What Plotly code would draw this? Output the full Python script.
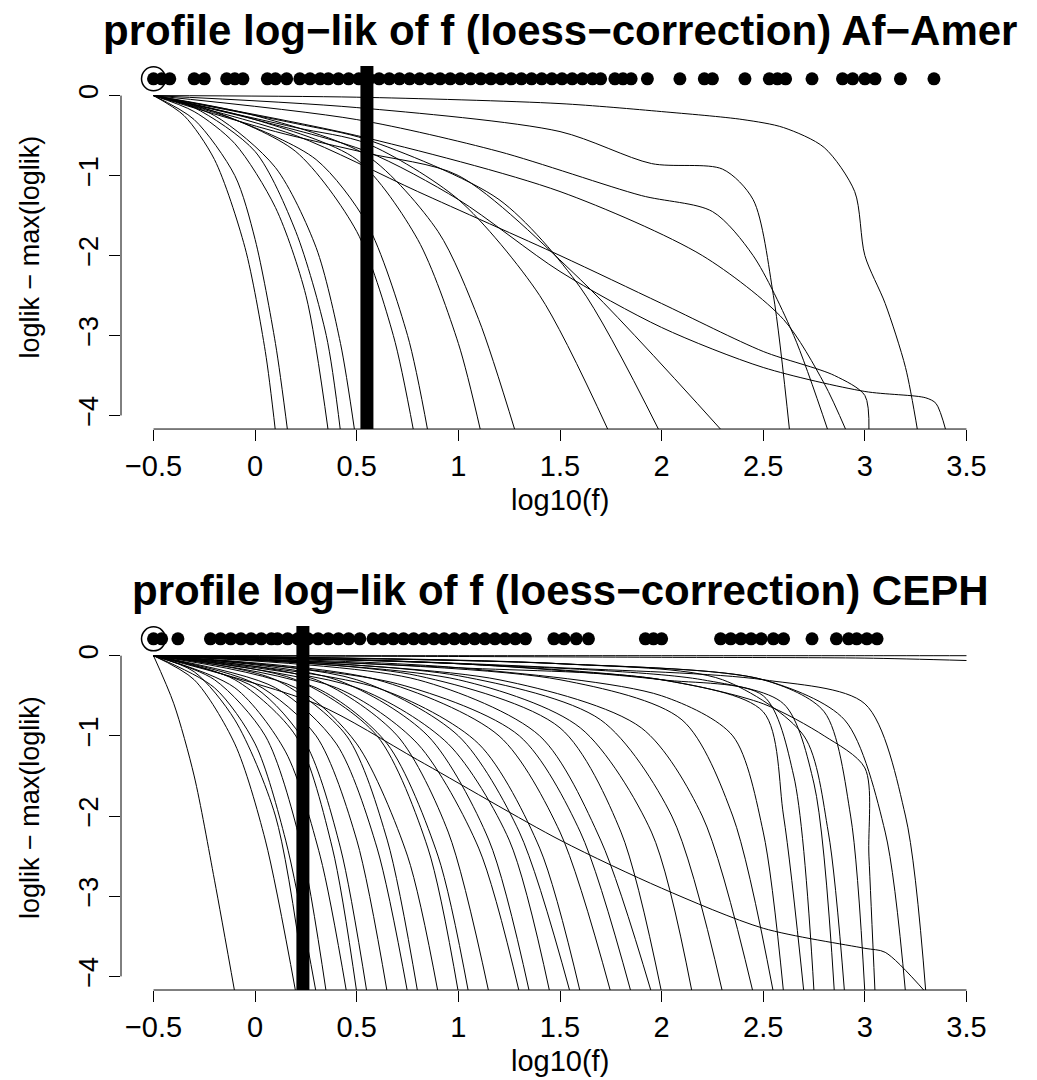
import plotly.graph_objects as go

# ---------------- data ----------------
panel_titles = ["profile log\u2212lik of f (loess\u2212correction) Af\u2212Amer",
                "profile log\u2212lik of f (loess\u2212correction) CEPH"]
x_label = "log10(f)"
y_label = "loglik \u2212 max(loglik)"
x_ticks = [-0.5, 0, 0.5, 1, 1.5, 2, 2.5, 3, 3.5]
x_tick_labels = ["\u22120.5", "0", "0.5", "1", "1.5", "2", "2.5", "3", "3.5"]
y_ticks = [-4, -3, -2, -1, 0]
y_tick_labels = ["\u22124", "\u22123", "\u22122", "\u22121", "0"]

estimate_top = 0.55
estimate_bottom = 0.235
dot_level = 0.21
circled_x = -0.5

dots_top = [-0.5, -0.46, -0.42, -0.30, -0.25, -0.14, -0.10, -0.06, 0.06, 0.10, 0.155,
            0.22, 0.27, 0.32, 0.36, 0.41, 0.46, 0.51, 0.56, 0.61, 0.66, 0.71, 0.76, 0.81,
            0.86, 0.91, 0.96, 1.01, 1.06, 1.11, 1.16, 1.21, 1.26, 1.31, 1.36, 1.41, 1.46,
            1.51, 1.56, 1.61, 1.66, 1.70, 1.77, 1.81, 1.85, 1.93, 2.09, 2.21, 2.25, 2.41,
            2.53, 2.57, 2.61, 2.74, 2.89, 2.94, 3.00, 3.05, 3.175, 3.34]

dots_bottom = [-0.5, -0.46, -0.38, -0.22, -0.17, -0.12, -0.07, -0.02, 0.03, 0.08, 0.11,
               0.16, 0.21, 0.26, 0.31, 0.36, 0.41, 0.46, 0.515, 0.58, 0.63, 0.68, 0.73,
               0.78, 0.83, 0.88, 0.93, 0.98, 1.03, 1.08, 1.13, 1.18, 1.23, 1.28, 1.33,
               1.47, 1.52, 1.58, 1.64, 1.92, 1.96, 2.0, 2.29, 2.34, 2.39, 2.44, 2.49, 2.55,
               2.60, 2.74, 2.86, 2.92, 2.96, 3.01, 3.06]

top_curves_x = [
    [-0.5, -0.35, -0.2, -0.05, 0.05, 0.1],
    [-0.5, -0.3, -0.1, 0.0, 0.1, 0.16],
    [-0.5, -0.3, -0.1, 0.1, 0.25, 0.36],
    [-0.5, -0.3, 0.0, 0.2, 0.35, 0.42],
    [-0.5, -0.2, 0.1, 0.3, 0.42, 0.49],
    [-0.5, -0.2, 0.2, 0.5, 0.68, 0.78],
    [-0.5, -0.1, 0.3, 0.55, 0.75, 0.85],
    [-0.5, 0.0, 0.5, 0.8, 1.0, 1.11],
    [-0.5, 0.0, 0.55, 0.9, 1.1, 1.28],
    [-0.5, 0.2, 0.55, 1.0, 1.4, 1.74],
    [-0.5, 0.2, 0.55, 1.2, 1.6, 1.99],
    [-0.5, 0.1, 0.55, 1.0, 1.6, 2.3],
    [-0.5, 0.5, 1.5, 1.95, 2.3, 2.45, 2.55, 2.63],
    [-0.5, 0.5, 1.2, 1.9, 2.25, 2.45, 2.65, 2.82],
    [-0.5, 0.5, 1.5, 2.2, 2.6, 2.8, 2.91],
    [-0.5, 0.5, 1.5, 2.0, 2.4, 2.6, 2.8, 2.95, 3.0, 3.1, 3.2, 3.26],
    [-0.5, 0.2, 0.8, 1.5, 2.0, 2.5, 2.85, 3.0, 3.02],
    [-0.5, 0.0, 0.55, 1.0, 1.5, 2.0, 2.5, 3.0, 3.3, 3.35, 3.4],
]
top_curves_y = [
    [0, -0.25, -0.8, -1.9, -3.2, -4.2],
    [0, -0.3, -1.0, -1.8, -3.1, -4.2],
    [0, -0.2, -0.6, -1.4, -2.5, -4.2],
    [0, -0.15, -0.7, -1.7, -3.0, -4.2],
    [0, -0.25, -0.9, -1.9, -3.1, -4.2],
    [0, -0.2, -0.7, -1.7, -3.0, -4.2],
    [0, -0.3, -0.8, -1.6, -3.0, -4.2],
    [0, -0.3, -0.8, -1.8, -3.1, -4.2],
    [0, -0.25, -0.75, -1.7, -2.8, -4.2],
    [0, -0.4, -0.6, -1.3, -2.5, -4.2],
    [0, -0.35, -0.55, -1.3, -2.4, -4.2],
    [0, -0.45, -0.72, -1.0, -2.3, -4.2],
    [0, -0.15, -0.45, -0.85, -0.92, -1.3, -2.5, -4.2],
    [0, -0.3, -0.7, -1.25, -1.45, -2.0, -3.0, -4.2],
    [0, -0.5, -1.2, -2.0, -2.8, -3.6, -4.2],
    [0, -0.02, -0.1, -0.2, -0.3, -0.4, -0.65, -1.2, -2.0, -2.6, -3.4, -4.2],
    [0, -0.5, -1.2, -2.0, -2.6, -3.2, -3.5, -3.75, -4.2],
    [0, -0.3, -0.7, -1.3, -2.2, -2.9, -3.4, -3.7, -3.78, -3.85, -4.2],
]

bottom_curves_x = [
    [-0.5, -0.4, -0.3, -0.2, -0.1],
    [-0.5, -0.3, -0.1, 0.05, 0.2],
    [-0.5, -0.3, -0.1, 0.1, 0.25],
    [-0.5, -0.2, 0.0, 0.15, 0.3],
    [-0.5, -0.2, 0.05, 0.22, 0.35],
    [-0.5, -0.1, 0.15, 0.32, 0.45],
    [-0.5, -0.1, 0.2, 0.38, 0.5],
    [-0.5, 0.0, 0.25, 0.42, 0.55],
    [-0.5, 0.0, 0.3, 0.5, 0.65],
    [-0.5, 0.1, 0.4, 0.6, 0.75],
    [-0.5, 0.1, 0.45, 0.65, 0.8],
    [-0.5, 0.2, 0.5, 0.75, 0.9],
    [-0.5, 0.2, 0.6, 0.85, 1.0],
    [-0.5, 0.3, 0.65, 0.9, 1.05],
    [-0.5, 0.3, 0.7, 0.95, 1.15],
    [-0.5, 0.4, 0.8, 1.1, 1.3],
    [-0.5, 0.4, 0.85, 1.15, 1.35],
    [-0.5, 0.5, 0.95, 1.25, 1.45],
    [-0.5, 0.5, 1.0, 1.3, 1.55],
    [-0.5, 0.6, 1.1, 1.4, 1.6],
    [-0.5, 0.6, 1.2, 1.5, 1.75],
    [-0.5, 0.7, 1.3, 1.6, 1.85],
    [-0.5, 0.8, 1.4, 1.7, 1.95],
    [-0.5, 0.8, 1.5, 1.8, 2.0],
    [-0.5, 1.0, 1.6, 1.95, 2.15],
    [-0.5, 1.0, 1.7, 2.05, 2.3],
    [-0.5, 1.2, 1.9, 2.2, 2.45],
    [-0.5, 1.5, 2.1, 2.35, 2.55],
    [-0.5, 1.0, 2.0, 2.35, 2.5, 2.6],
    [-0.5, 1.0, 2.0, 2.5, 2.6, 2.7],
    [-0.5, 1.0, 2.0, 2.5, 2.65, 2.75],
    [-0.5, 1.0, 2.2, 2.6, 2.75, 2.85],
    [-0.5, 1.5, 2.3, 2.7, 2.82, 2.9],
    [-0.5, 1.5, 2.5, 2.8, 2.93, 3.0],
    [-0.5, 1.0, 2.0, 2.5, 2.8, 3.0, 3.02, 3.05],
    [-0.5, 1.5, 2.5, 2.9, 3.1, 3.2],
    [-0.5, 0.3, 0.8, 1.5, 2.0, 2.5, 3.0, 3.1, 3.3],
    [-0.5, 1.0, 2.0, 3.0, 3.5],
    [-0.5, 1.0, 2.0, 3.0, 3.5],
    [-0.5, 0.5, 1.5, 2.5, 3.0, 3.2, 3.3],
]
bottom_curves_y = [
    [0, -0.6, -1.5, -2.8, -4.2],
    [0, -0.3, -1.1, -2.3, -4.2],
    [0, -0.2, -0.8, -2.0, -4.2],
    [0, -0.4, -1.1, -2.3, -4.2],
    [0, -0.3, -1.0, -2.3, -4.2],
    [0, -0.4, -1.2, -2.5, -4.2],
    [0, -0.3, -1.0, -2.4, -4.2],
    [0, -0.4, -1.1, -2.4, -4.2],
    [0, -0.35, -1.0, -2.3, -4.2],
    [0, -0.4, -1.1, -2.4, -4.2],
    [0, -0.3, -1.0, -2.3, -4.2],
    [0, -0.4, -1.1, -2.5, -4.2],
    [0, -0.3, -1.0, -2.4, -4.2],
    [0, -0.4, -1.1, -2.5, -4.2],
    [0, -0.3, -1.0, -2.2, -4.2],
    [0, -0.4, -1.1, -2.4, -4.2],
    [0, -0.3, -1.0, -2.3, -4.2],
    [0, -0.4, -1.1, -2.3, -4.2],
    [0, -0.3, -1.0, -2.2, -4.2],
    [0, -0.4, -1.1, -2.4, -4.2],
    [0, -0.3, -1.0, -2.2, -4.2],
    [0, -0.35, -1.0, -2.2, -4.2],
    [0, -0.3, -1.0, -2.3, -4.2],
    [0, -0.25, -0.9, -2.2, -4.2],
    [0, -0.3, -0.9, -2.2, -4.2],
    [0, -0.25, -0.8, -2.0, -4.2],
    [0, -0.3, -0.9, -2.0, -4.2],
    [0, -0.3, -0.8, -2.0, -4.2],
    [0, -0.15, -0.5, -1.0, -2.2, -4.2],
    [0, -0.15, -0.3, -0.7, -2.0, -4.2],
    [0, -0.1, -0.3, -0.5, -1.5, -4.2],
    [0, -0.1, -0.3, -0.6, -1.6, -4.2],
    [0, -0.1, -0.3, -1.0, -2.2, -4.2],
    [0, -0.1, -0.3, -0.7, -2.0, -4.2],
    [0, -0.1, -0.3, -0.6, -1.0, -1.4, -2.5, -4.2],
    [0, -0.1, -0.3, -0.8, -2.2, -4.2],
    [0, -0.6, -1.3, -2.3, -2.9, -3.4, -3.65, -3.7, -4.2],
    [0, 0, 0, 0, 0],
    [0, -0.01, -0.02, -0.03, -0.06],
    [0, -0.05, -0.15, -0.3, -0.6, -2.0, -4.2],
]

# ---------------- figure ----------------
FONT = "Liberation Sans, Arial, sans-serif"
X_RANGE = [-0.66, 3.66]
Y_RANGE = [-4.17, 0.37]

fig = go.Figure()

panels = [
    ("x", "y", top_curves_x, top_curves_y, dots_top, estimate_top),
    ("x2", "y2", bottom_curves_x, bottom_curves_y, dots_bottom, estimate_bottom),
]
for xa, ya, cx, cy, dots, est in panels:
    for xs, ys in zip(cx, cy):
        fig.add_trace(go.Scatter(x=xs, y=ys, mode="lines", xaxis=xa, yaxis=ya,
                                 line=dict(color="black", width=1, shape="spline", smoothing=0.8),
                                 hoverinfo="skip", showlegend=False))
    fig.add_trace(go.Scatter(x=dots, y=[dot_level] * len(dots), mode="markers",
                             xaxis=xa, yaxis=ya, marker=dict(color="black", size=13),
                             showlegend=False, hoverinfo="skip"))
    fig.add_trace(go.Scatter(x=[circled_x], y=[dot_level], mode="markers",
                             xaxis=xa, yaxis=ya,
                             marker=dict(symbol="circle-open", color="black", size=24,
                                         line=dict(width=1.5, color="black")),
                             showlegend=False, hoverinfo="skip"))
    # thick vertical line at the estimate (spans the full plot region, like abline)
    fig.add_shape(type="line", xref=xa, yref=ya + " domain", x0=est, x1=est, y0=0, y1=1,
                  line=dict(color="black", width=13))
    # R-style axis lines from first to last tick
    fig.add_shape(type="line", xref=xa, yref=ya + " domain", x0=x_ticks[0], x1=x_ticks[-1],
                  y0=0, y1=0, line=dict(color="black", width=1))
    fig.add_shape(type="line", xref=xa + " domain", yref=ya, x0=0, x1=0,
                  y0=y_ticks[0], y1=y_ticks[-1], line=dict(color="black", width=1))

axis_common = dict(showgrid=False, zeroline=False, showline=False, ticks="outside",
                   tickcolor="black", tickwidth=1, ticklen=11)

top_dom = [0.6071, 1.0]
bot_dom = [0.0, 0.3939]
xtick_font = dict(family=FONT, size=29, color="black")
ytick_font = dict(family=FONT, size=27, color="black")
fig.update_layout(
    width=1037, height=1080,
    margin=dict(l=121, r=38, t=66, b=90),
    paper_bgcolor="white", plot_bgcolor="white",
    xaxis=dict(domain=[0, 1], anchor="y", range=X_RANGE, tickvals=x_ticks,
               ticktext=x_tick_labels, tickfont=xtick_font, **axis_common),
    yaxis=dict(domain=top_dom, anchor="x", range=Y_RANGE, tickvals=y_ticks,
               ticktext=y_tick_labels, tickangle=-90, tickfont=ytick_font, **axis_common),
    xaxis2=dict(domain=[0, 1], anchor="y2", range=X_RANGE, tickvals=x_ticks,
                ticktext=x_tick_labels, tickfont=xtick_font, **axis_common),
    yaxis2=dict(domain=bot_dom, anchor="x2", range=Y_RANGE, tickvals=y_ticks,
                ticktext=y_tick_labels, tickangle=-90, tickfont=ytick_font, **axis_common),
)

ann = []
for title, dom in ((panel_titles[0], top_dom), (panel_titles[1], bot_dom)):
    ann.append(dict(text="<b>" + title + "</b>", xref="paper", yref="paper",
                    x=0.5, y=dom[1] + 36 / 924, xanchor="center", yanchor="middle",
                    showarrow=False, font=dict(family=FONT, size=42, color="black")))
    ann.append(dict(text=x_label, xref="paper", yref="paper",
                    x=0.5, y=dom[0] - 71 / 924, xanchor="center", yanchor="middle",
                    showarrow=False, font=dict(family=FONT, size=29, color="black")))
    ann.append(dict(text=y_label, xref="paper", yref="paper", textangle=-90,
                    x=-91 / 878, y=(dom[0] + dom[1]) / 2, xanchor="center", yanchor="middle",
                    showarrow=False, font=dict(family=FONT, size=27, color="black")))
fig.update_layout(annotations=ann)

fig.write_html("out.html")
